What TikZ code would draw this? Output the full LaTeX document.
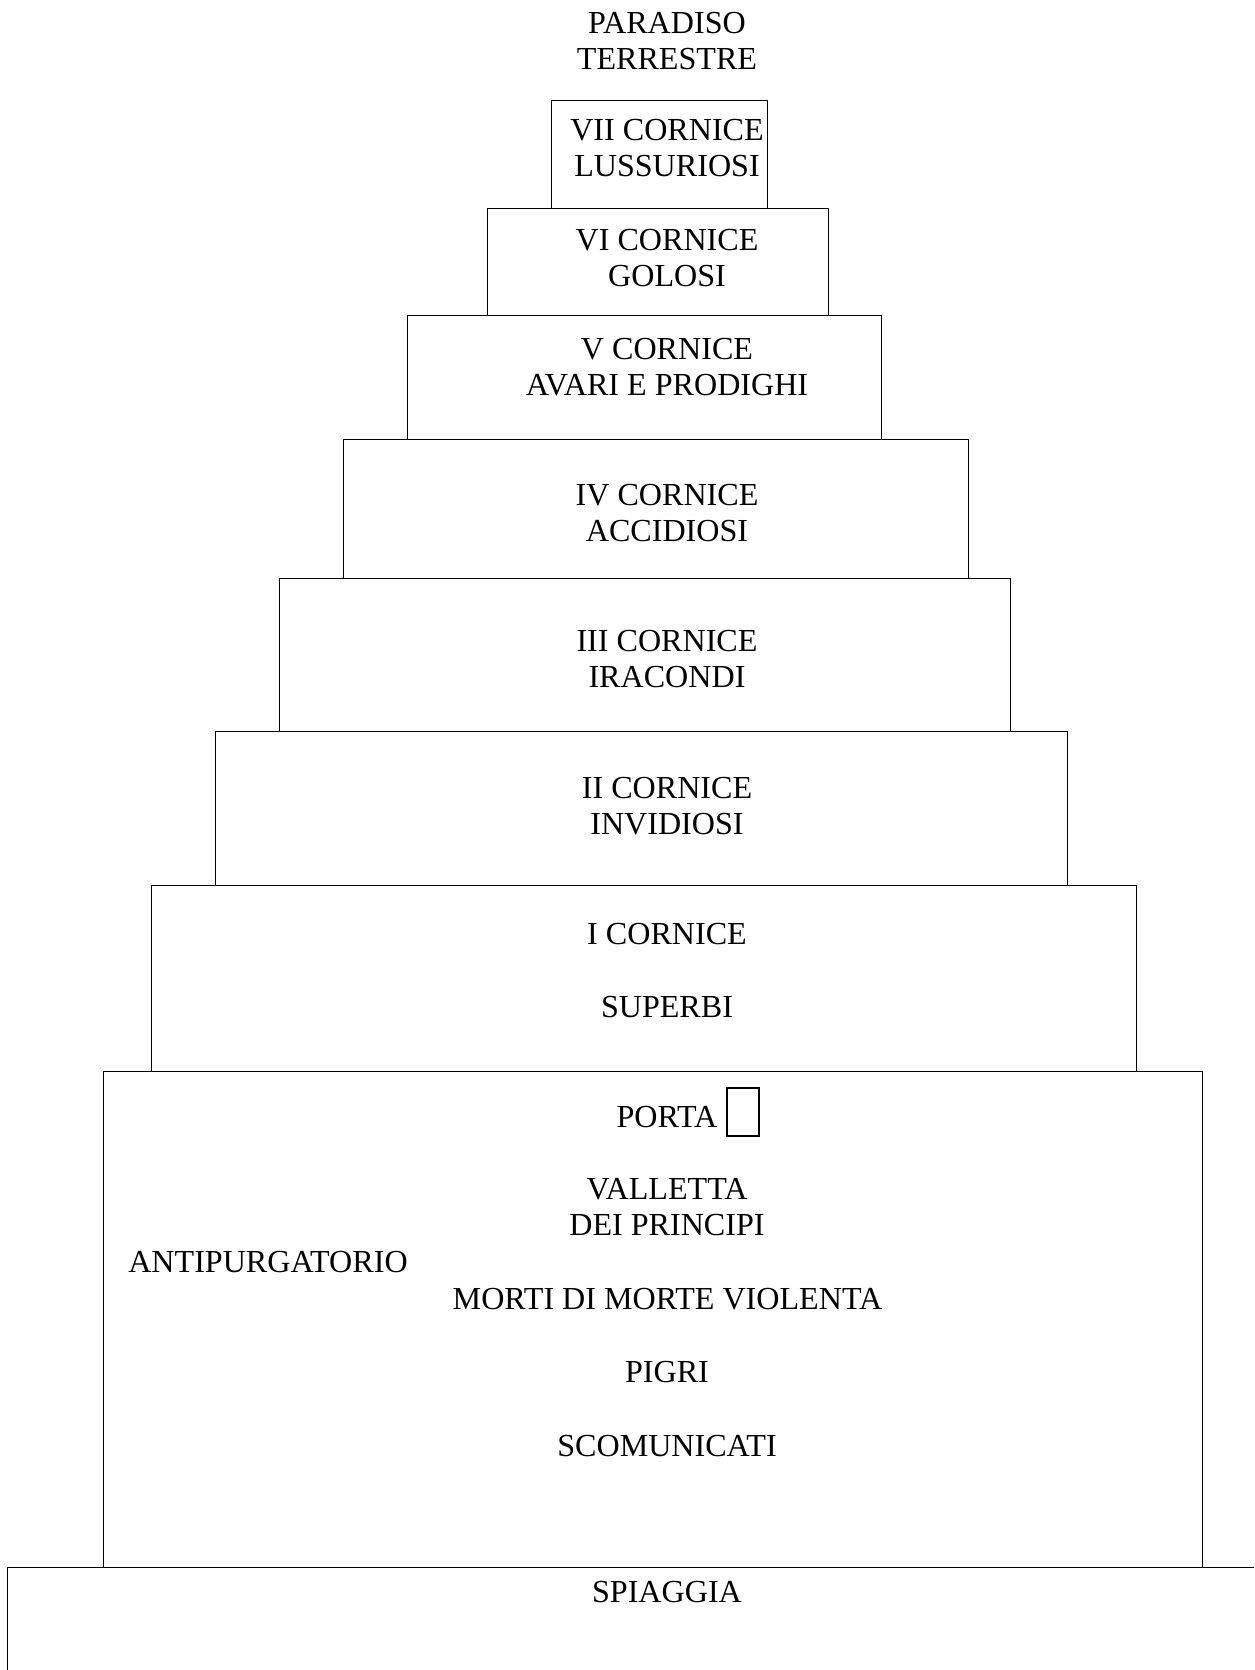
\documentclass[tikz,border=0pt]{standalone}
\usepackage{fontspec}
\setmainfont{Liberation Serif}
\begin{document}
\begin{tikzpicture}[x=0.5pt,y=-0.5pt,
  line width=0.5pt,
  lbl/.style={inner sep=0pt, outer sep=0pt, align=center, font=\fontsize{16.05}{18}\selectfont},
  ledge/.style={draw=black, line width=0.5pt}]
\useasboundingbox (0,0) rectangle (1254,1670);
\fill[white] (0,0) rectangle (1254,1670);
% terraces
\draw[ledge] (551,100) rectangle (767,208);
\draw[ledge] (487,208) rectangle (828,315);
\draw[ledge] (407,315) rectangle (881,439);
\draw[ledge] (343,439) rectangle (968,578);
\draw[ledge] (279,578) rectangle (1010,731);
\draw[ledge] (215,731) rectangle (1067,885);
\draw[ledge] (151,885) rectangle (1136,1071);
\draw[ledge] (103,1071) rectangle (1202,1567);
\draw[ledge] (1254,1567) -- (7,1567) -- (7,1670);
% labels
\node[lbl] (paradiso) at (667,41) {PARADISO\\TERRESTRE};
\node[lbl] (c7) at (667,148.5) {VII CORNICE\\LUSSURIOSI};
\node[lbl] (c6) at (667,258.5) {VI CORNICE\\GOLOSI};
\node[lbl] (c5) at (667,367.5) {V CORNICE\\AVARI E PRODIGHI};
\node[lbl] (c4) at (667,513.5) {IV CORNICE\\ACCIDIOSI};
\node[lbl] (c3) at (667,659.5) {III CORNICE\\IRACONDI};
\node[lbl] (c2) at (667,806) {II CORNICE\\INVIDIOSI};
\node[lbl] (c1) at (667,934) {I CORNICE};
\node[lbl] (superbi) at (667,1007) {SUPERBI};
\node[lbl] (porta) at (667,1117) {PORTA};
\node[draw, line width=0.7pt, inner sep=0pt, minimum width=16pt, minimum height=24pt] (portabox) at (743,1112) {};
\node[lbl] (valletta) at (667,1207) {VALLETTA\\DEI PRINCIPI};
\node[lbl] (antip) at (268,1262) {ANTIPURGATORIO};
\node[lbl] (morti) at (667.5,1299) {MORTI DI MORTE VIOLENTA};
\node[lbl] (pigri) at (667,1372) {PIGRI};
\node[lbl] (scom) at (667,1446) {SCOMUNICATI};
\node[lbl] (spiaggia) at (667,1592) {SPIAGGIA};
\end{tikzpicture}
\end{document}
